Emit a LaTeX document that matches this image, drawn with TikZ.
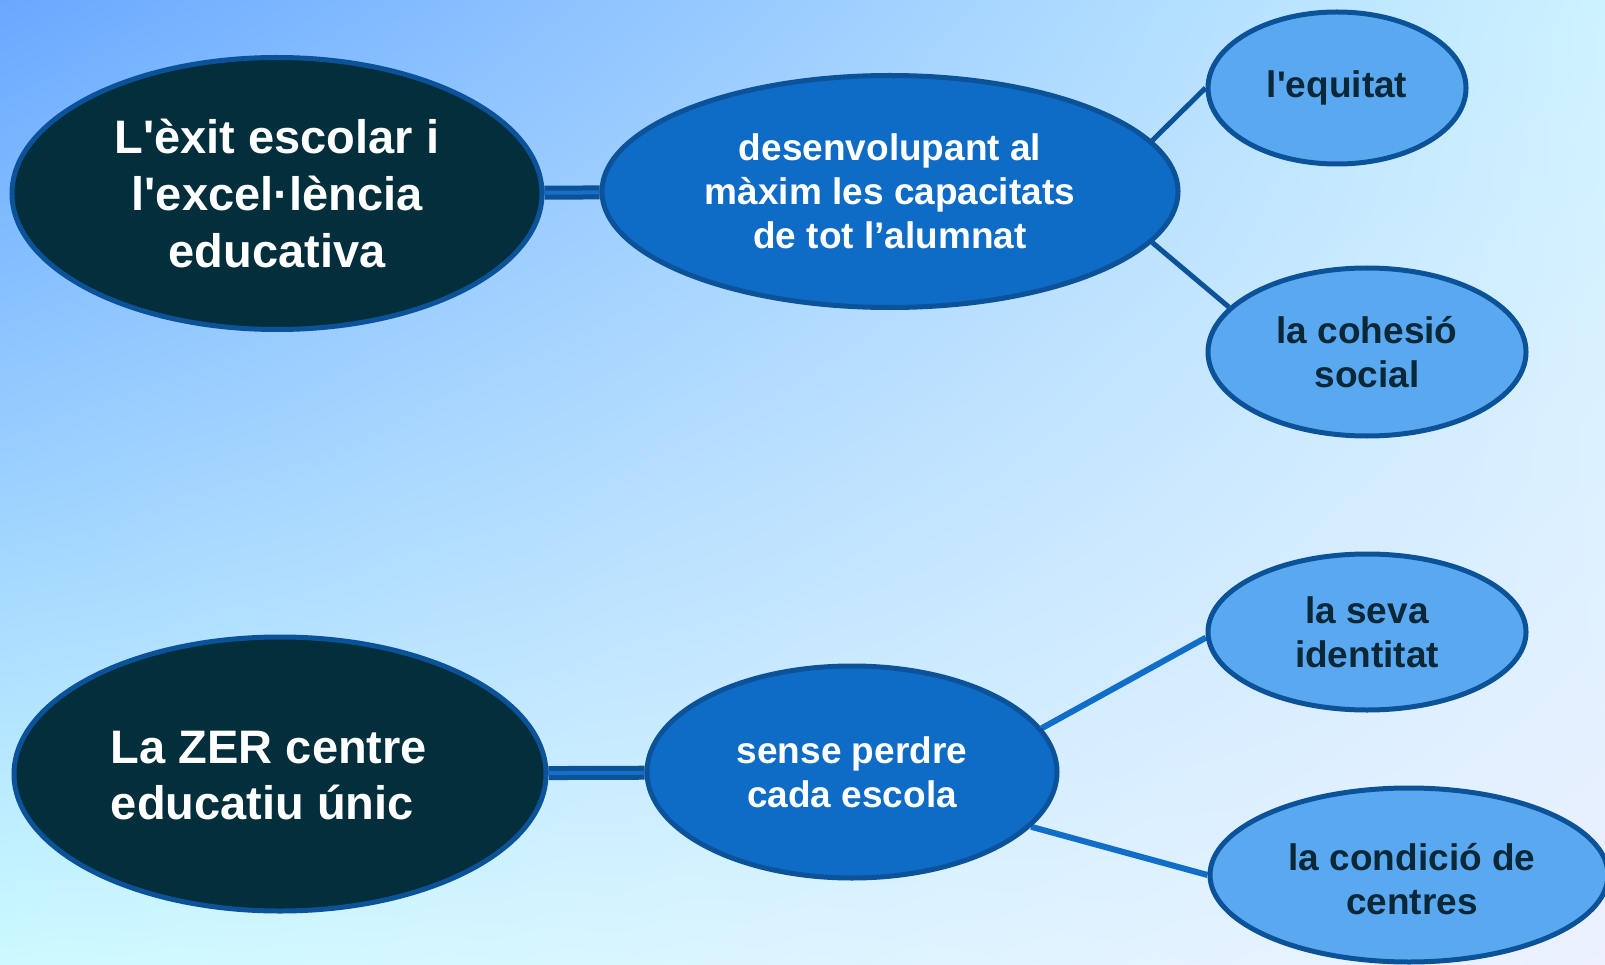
\documentclass[tikz,border=0pt]{standalone}
\usepackage{fontspec}
\setmainfont{Liberation Sans}
\usetikzlibrary{shapes.geometric,shadings}
\definecolor{bgUL}{RGB}{105,168,255}
\definecolor{bgUR}{RGB}{205,242,255}
\definecolor{bgLL}{RGB}{205,250,255}
\definecolor{bgLR}{RGB}{236,240,255}
\definecolor{darkfill}{RGB}{3,46,60}
\definecolor{midfill}{RGB}{15,108,198}
\definecolor{smallfill}{RGB}{90,168,240}
\definecolor{rim}{RGB}{12,82,152}
\definecolor{linkin}{RGB}{25,110,200}
\definecolor{linklight}{RGB}{16,110,200}
\definecolor{smalltext}{RGB}{10,40,55}
\newcommand{\sq}{\textquotesingle}
\pgfdeclarelayer{bglayer}
\pgfdeclarelayer{edgelayer}
\pgfsetlayers{bglayer,edgelayer,main}
\tikzset{
  oval/.style={ellipse, draw=rim, line width=5pt, inner sep=0pt, align=center, font=\bfseries},
  bigoval/.style={oval, fill=darkfill, text=white, font=\bfseries\fontsize{47}{57}\selectfont},
  midoval/.style={oval, fill=midfill, text=white, font=\bfseries\fontsize{37}{44}\selectfont},
  smalloval/.style={oval, fill=smallfill, text=smalltext, font=\bfseries\fontsize{37}{44}\selectfont},
  dlink/.style={draw=rim, line width=5pt, double=linkin, double distance=4pt},
  darklink/.style={draw=rim, line width=5pt},
  lightlink/.style={draw=linklight, line width=6pt},
}
\begin{document}
\begin{tikzpicture}[x=1pt,y=-1pt]
\useasboundingbox (0,0) rectangle (1605,965);
\begin{pgfonlayer}{bglayer}
\shade[upper left=bgUL, upper right=bgUR, lower left=bgLL, lower right=bgLR] (0,0) rectangle (1605,965);
\end{pgfonlayer}
% top group
\node[bigoval, minimum width=530pt, minimum height=272pt] (a1) at (277,193.5) {L\sq èxit escolar i\\l\sq excel·lència\\educativa};
\node[midoval, minimum width=576pt, minimum height=232pt] (m1) at (890,191.5) {desenvolupant al\\màxim les capacitats\\de tot l’alumnat};
\node[smalloval, minimum width=258pt, minimum height=152pt] (eq) at (1337,88) {l\sq equitat};
\node[smalloval, minimum width=318pt, minimum height=168pt] (co) at (1367,352) {la cohesió\\social};
% bottom group
\node[bigoval, minimum width=532pt, minimum height=274pt] (a2) at (280,774) {};
\node[text=white, font=\bfseries\fontsize{47}{56}\selectfont, align=left, inner sep=0pt] (t2) at (269,776) {La ZER centre\\educatiu únic};
\node[midoval, minimum width=410pt, minimum height=212pt] (sp) at (852,772) {sense perdre\\cada escola};
\node[smalloval, minimum width=318pt, minimum height=156pt] (sv) at (1367,632) {la seva\\identitat};
\node[smalloval, minimum width=398pt, minimum height=174pt] (cd) at (1409,875) {};
\node[text=smalltext, font=\bfseries\fontsize{37}{44}\selectfont, align=center, inner sep=0pt] (tcd) at (1412,879) {la condició de\\centres};
\begin{pgfonlayer}{edgelayer}
\draw[dlink] (a1) -- (m1);
\draw[dlink] (a2) -- (sp);
\draw[darklink] (m1.11) -- (eq.west);
\draw[darklink] (m1.-11) -- (co.162);
\draw[lightlink] (sp.13) -- (sv.182);
\draw[lightlink] (sp.-17) -- (cd.west);
\end{pgfonlayer}
\end{tikzpicture}
\end{document}
